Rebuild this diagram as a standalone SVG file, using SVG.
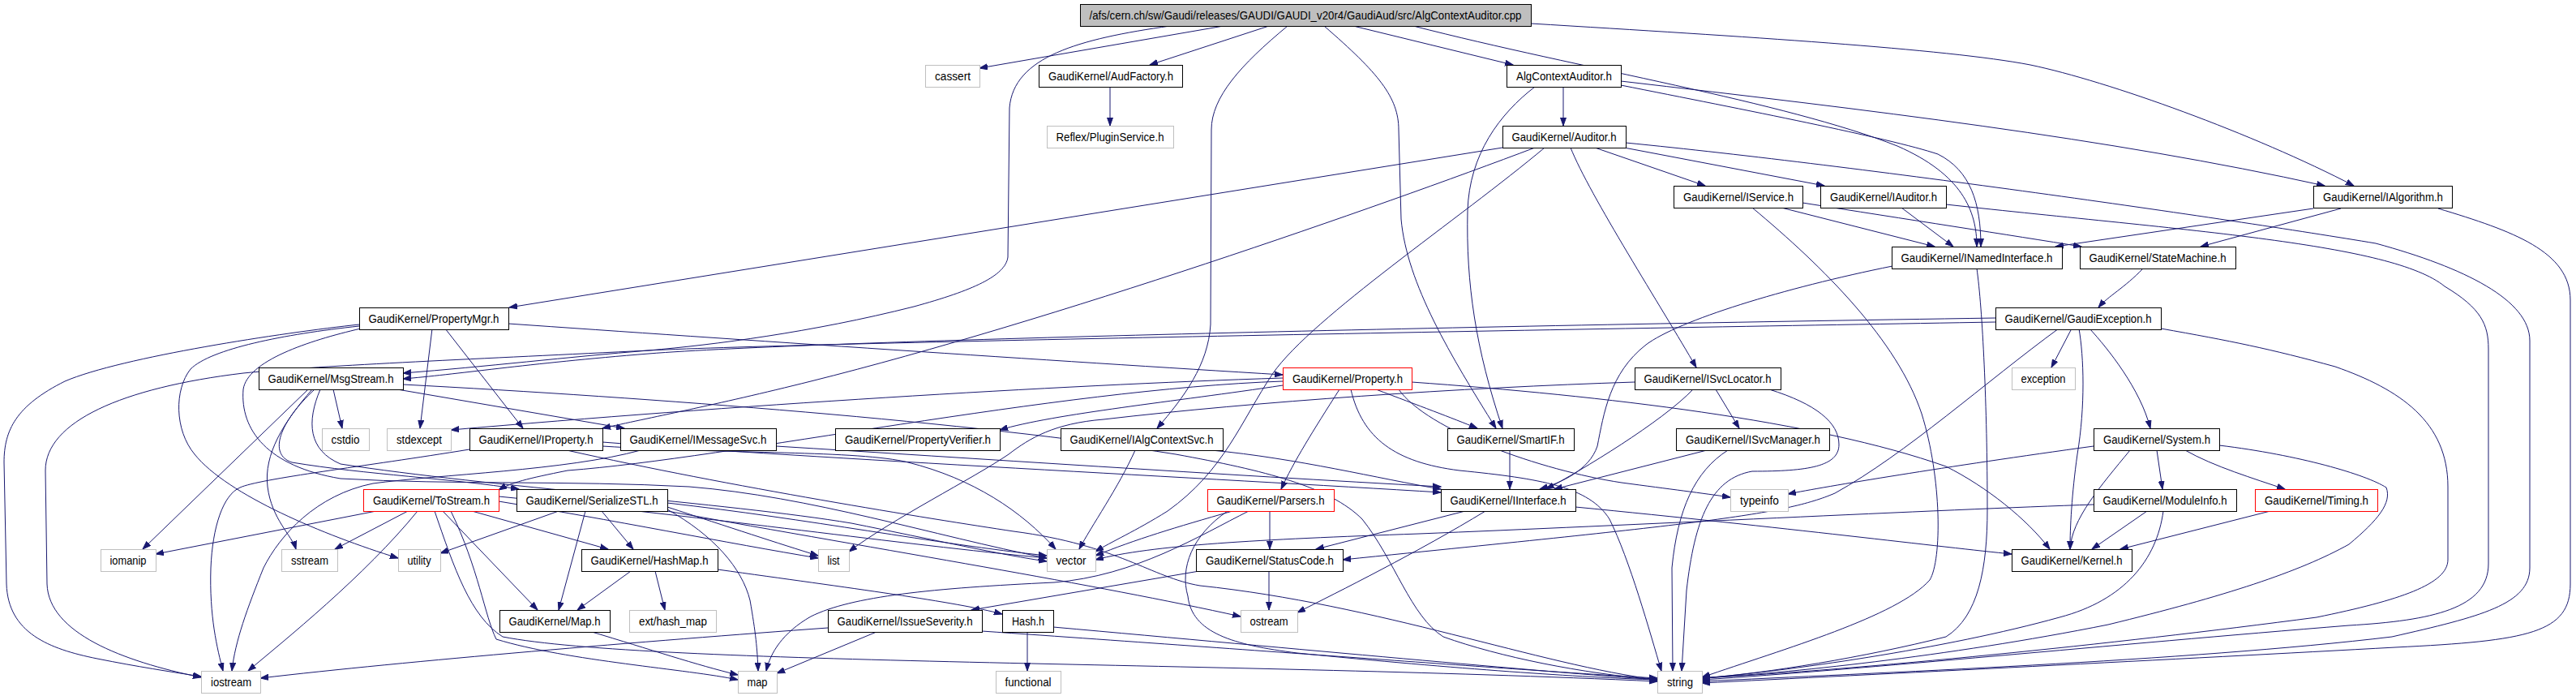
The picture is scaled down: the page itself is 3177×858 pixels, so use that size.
<svg xmlns="http://www.w3.org/2000/svg" width="3177" height="858" viewBox="0 0 3177 858">
<defs>
<marker id="a" markerWidth="11" markerHeight="8" refX="10" refY="4" orient="auto" markerUnits="userSpaceOnUse"><path d="M0,0.5 L10,4 L0,7.5 z" fill="#191970" stroke="#191970" stroke-width="1"/></marker>
<style>
.n rect{fill:#fff;stroke:#000;stroke-width:1}
.g rect{fill:#fff;stroke:#bfbfbf;stroke-width:1}
.r rect{fill:#fff;stroke:#ff0000;stroke-width:1}
.m rect{fill:#bfbfbf;stroke:#000;stroke-width:1}
text{font-family:"Liberation Sans",Arial,sans-serif;font-size:14px;text-anchor:middle;fill:#000}
#edges path{fill:none;stroke:#191970;stroke-width:1;marker-end:url(#a)}
</style>
</defs>
<rect width="3177" height="858" fill="#fff"/>
<g id="edges">
<path d="M1509,32 L1208,84"/>
<path d="M1565,32 L1418,80"/>
<path d="M1669,32 L1866,80"/>
<path d="M1888,29 C2150,45 2400,60 2504,80 C2600,100 2780,165 2903,229"/>
<path d="M1743,32 C1950,85 2200,125 2340,180 C2420,215 2438,260 2438,304"/>
<path d="M1443,32 C1330,48 1250,70 1245,133 L1243,317 C1240,340 1200,358 1127,378 C1000,410 880,425 800,432 C700,440 600,452 497,460"/>
<path d="M1588,32 C1530,80 1494,120 1494,160 L1493,400 C1490,450 1460,490 1427,528"/>
<path d="M1633,32 C1700,90 1725,120 1725,160 L1728,270 C1735,350 1790,440 1845,528"/>
<path d="M1369,107 L1369,155"/>
<path d="M1928,107 L1928,155"/>
<path d="M1999,100 C2300,135 2600,170 2867,229"/>
<path d="M1999,105 C2150,135 2330,170 2390,190 C2430,210 2443,250 2443,304"/>
<path d="M1893,107 C1850,140 1812,190 1810,260 C1808,350 1820,430 1853,528"/>
<path d="M1853,182 L628,379"/>
<path d="M1893,182 C1700,255 1300,395 1000,470 C880,500 800,515 743,528"/>
<path d="M1905,182 C1800,270 1620,390 1570,460 C1530,520 1510,580 1440,630 C1400,655 1370,668 1351,680"/>
<path d="M1937,182 C1960,240 2050,380 2092,453"/>
<path d="M1967,182 L2103,229"/>
<path d="M2003,182 L2250,229"/>
<path d="M2005,176 C2300,205 2750,270 2930,300 C3040,330 3120,370 3120,420 L3120,700 C3120,745 3060,760 2950,785 C2700,815 2300,830 2099,840"/>
<path d="M2197,256 L2386,304"/>
<path d="M2223,250 C2350,270 2480,290 2567,304"/>
<path d="M2161,256 C2250,330 2340,420 2370,510 C2395,590 2395,690 2380,715 C2340,760 2200,800 2099,835"/>
<path d="M2345,256 L2409,304"/>
<path d="M2400,252 C2700,285 2950,300 3015,353 C3060,380 3069,400 3069,430 L3069,695 C3069,750 3000,765 2897,771 C2600,795 2300,825 2099,838"/>
<path d="M2853,257 L2535,304"/>
<path d="M2887,257 L2714,304"/>
<path d="M3007,257 C3100,285 3170,310 3170,370 L3170,720 C3170,780 3120,790 2954,798 C2700,812 2300,832 2099,842"/>
<path d="M2334,328 C2200,355 2070,395 2030,425 C1985,460 1978,510 1970,550 C1960,580 1925,595 1899,603"/>
<path d="M2438,331 C2445,380 2451,500 2451,628 C2451,700 2440,760 2400,785 C2300,810 2180,830 2099,836"/>
<path d="M2643,331 C2620,355 2600,365 2588,379"/>
<path d="M2461,392 C1800,402 1000,420 800,436 C650,448 560,462 497,467"/>
<path d="M2461,397 C2000,405 1000,422 800,432 C600,442 400,450 300,460 C150,478 56,520 56,580 L58,720 C60,780 150,815 248,835"/>
<path d="M2555,405 L2530,453"/>
<path d="M2577,405 C2600,430 2640,480 2652,528"/>
<path d="M2564,405 C2570,440 2572,500 2562,560 C2555,610 2553,650 2553,677"/>
<path d="M2539,405 C2450,470 2350,560 2263,608 C2200,635 2100,645 1656,690"/>
<path d="M2665,405 C2750,420 2800,430 2880,452 C2960,480 3019,520 3019,600 L3019,690 C3019,720 2960,740 2857,761 C2600,795 2300,825 2099,836"/>
<path d="M443,400 C350,410 150,440 80,470 C20,500 5,530 5,570 L8,720 C10,780 60,800 120,812 C170,822 210,828 248,834"/>
<path d="M443,402 C350,412 260,430 235,455 C215,480 215,530 240,560 C280,610 400,660 491,688"/>
<path d="M445,405 C380,420 305,445 300,480 C296,530 330,575 420,590 C560,598 700,592 850,600 C1000,612 1150,660 1291,688"/>
<path d="M533,405 L518,528"/>
<path d="M549,405 L645,528"/>
<path d="M627,399 C900,418 1300,445 1582,462"/>
<path d="M380,480 L176,677"/>
<path d="M385,480 C350,520 325,560 330,600 C335,640 360,660 365,677"/>
<path d="M388,480 C345,520 330,560 360,570 C450,585 560,590 640,603"/>
<path d="M395,480 C378,520 380,555 420,572 C600,600 900,620 1050,645 C1150,665 1240,685 1291,692"/>
<path d="M411,480 L422,528"/>
<path d="M490,480 L770,528"/>
<path d="M497,474 C800,490 1200,520 1450,560 C1560,580 1640,600 1680,640 C1720,690 1740,760 1780,785 C1850,810 1950,830 2044,838"/>
<path d="M743,545 C1000,565 1500,590 1777,607"/>
<path d="M579,554 C450,575 320,590 296,601 C275,610 262,650 260,700 C258,760 268,800 275,827"/>
<path d="M699,555 C900,600 1150,640 1250,655 C1380,672 1420,712 1480,722 C1700,745 1900,820 2044,838"/>
<path d="M743,550 C900,560 1060,555 1120,570 C1200,590 1260,630 1302,677"/>
<path d="M957,550 C1200,565 1500,585 1777,600"/>
<path d="M790,555 C700,580 540,585 460,596 C390,610 345,660 325,700 C305,750 290,790 286,827"/>
<path d="M1400,555 C1380,600 1345,650 1331,677"/>
<path d="M1494,555 C1600,565 1700,590 1777,603"/>
<path d="M1862,555 L1862,603"/>
<path d="M2088,480 C2050,520 1950,580 1907,603"/>
<path d="M2116,480 L2145,528"/>
<path d="M2016,471 C1800,478 1550,495 1361,517 C1300,522 1270,540 1244,560 C1200,590 1100,640 1047,680"/>
<path d="M2182,480 C2240,498 2268,521 2268,548 C2268,575 2230,581 2161,581 C2110,590 2090,640 2080,728 L2074,827"/>
<path d="M2105,555 L1917,603"/>
<path d="M2131,555 C2090,581 2069,628 2062,700 L2063,827"/>
<path d="M1652,480 C1620,530 1595,570 1580,603"/>
<path d="M1697,480 C1750,500 1790,515 1822,528"/>
<path d="M1666,480 C1680,540 1720,570 1800,580 C1900,590 1960,600 1985,640 C2010,690 2035,780 2049,827"/>
<path d="M1725,480 C1760,530 1900,580 2000,595 C2060,603 2100,608 2134,613"/>
<path d="M1741,471 C1978,488 2238,518 2400,575 C2450,600 2500,640 2528,677"/>
<path d="M1582,466 C1300,475 900,500 556,530"/>
<path d="M1582,475 C1450,495 1300,510 1233,530"/>
<path d="M1582,470 C1300,480 900,565 700,580 C650,590 630,595 615,604"/>
<path d="M1520,630 C1450,650 1400,665 1351,685"/>
<path d="M1540,630 C1480,660 1400,710 1300,718 C1150,725 1050,735 1000,760 C965,780 950,805 945,827"/>
<path d="M1566,630 L1566,677"/>
<path d="M1514,630 C1470,660 1455,700 1465,735 C1470,780 1520,795 1600,805 C1800,825 1950,835 2044,838"/>
<path d="M464,630 L192,683"/>
<path d="M503,630 L413,677"/>
<path d="M515,630 C450,710 350,790 306,827"/>
<path d="M536,630 C560,700 580,760 620,785 C800,820 1500,815 2044,840"/>
<path d="M546,630 L663,752"/>
<path d="M582,630 L750,677"/>
<path d="M615,618 C750,640 900,670 1009,688"/>
<path d="M615,612 C900,640 1100,670 1291,688"/>
<path d="M556,630 C590,700 598,760 612,788 C700,815 850,825 910,838"/>
<path d="M689,630 L543,682"/>
<path d="M722,630 L689,752"/>
<path d="M742,630 L781,677"/>
<path d="M823,625 C900,650 960,670 1009,685"/>
<path d="M823,620 C1000,640 1150,670 1291,685"/>
<path d="M823,630 C1100,680 1350,720 1530,760"/>
<path d="M823,628 C880,660 915,700 925,740 C932,780 934,800 935,827"/>
<path d="M778,704 L712,752"/>
<path d="M808,704 L820,752"/>
<path d="M885,702 C1050,725 1180,742 1236,757"/>
<path d="M730,779 C800,800 860,820 910,832"/>
<path d="M1267,779 L1267,827"/>
<path d="M1299,773 C1600,800 1900,828 2044,838"/>
<path d="M1565,704 L1565,752"/>
<path d="M1479,704 L1198,752"/>
<path d="M1021,774 C800,790 500,815 321,836"/>
<path d="M1081,779 L958,830"/>
<path d="M1211,778 C1600,805 1900,828 2044,836"/>
<path d="M1807,630 L1623,677"/>
<path d="M1832,630 C1750,680 1650,730 1600,755"/>
<path d="M1943,625 C2200,650 2400,675 2481,683"/>
<path d="M2582,550 C2400,575 2250,600 2205,609"/>
<path d="M2627,555 C2590,600 2555,640 2553,677"/>
<path d="M2660,555 L2667,603"/>
<path d="M2695,555 C2730,575 2780,590 2818,603"/>
<path d="M2737,549 C2836,561 2918,585 2943,601 C2950,620 2933,641 2897,671 C2836,705 2744,735 2600,770 C2400,810 2200,830 2099,836"/>
<path d="M2648,630 L2580,677"/>
<path d="M2668,630 C2660,690 2620,740 2540,761 C2400,800 2200,828 2099,836"/>
<path d="M2582,622 C2400,628 2000,648 1750,658 C1550,665 1420,672 1351,690"/>
<path d="M2800,630 L2615,677"/>
</g>
<g id="main" class="m"><rect x="1332.5" y="5.5" width="556" height="27"/><text x="1610" y="24" textLength="533" lengthAdjust="spacingAndGlyphs">/afs/cern.ch/sw/Gaudi/releases/GAUDI/GAUDI_v20r4/GaudiAud/src/AlgContextAuditor.cpp</text></g>
<g id="cassert" class="g"><rect x="1141.5" y="80.5" width="67" height="27"/><text x="1175" y="99" textLength="44" lengthAdjust="spacingAndGlyphs">cassert</text></g>
<g id="AudFactory" class="n"><rect x="1281.5" y="80.5" width="177" height="27"/><text x="1370" y="99" textLength="154" lengthAdjust="spacingAndGlyphs">GaudiKernel/AudFactory.h</text></g>
<g id="AlgContextAuditorH" class="n"><rect x="1858.5" y="80.5" width="141" height="27"/><text x="1929" y="99" textLength="118" lengthAdjust="spacingAndGlyphs">AlgContextAuditor.h</text></g>
<g id="PluginService" class="g"><rect x="1291.5" y="155.5" width="156" height="27"/><text x="1369" y="174" textLength="133" lengthAdjust="spacingAndGlyphs">Reflex/PluginService.h</text></g>
<g id="Auditor" class="n"><rect x="1853.5" y="155.5" width="152" height="27"/><text x="1929" y="174" textLength="129" lengthAdjust="spacingAndGlyphs">GaudiKernel/Auditor.h</text></g>
<g id="IService" class="n"><rect x="2064.5" y="229.5" width="159" height="27"/><text x="2144" y="248" textLength="136" lengthAdjust="spacingAndGlyphs">GaudiKernel/IService.h</text></g>
<g id="IAuditor" class="n"><rect x="2245.5" y="229.5" width="155" height="27"/><text x="2323" y="248" textLength="132" lengthAdjust="spacingAndGlyphs">GaudiKernel/IAuditor.h</text></g>
<g id="IAlgorithm" class="n"><rect x="2853.5" y="229.5" width="171" height="27"/><text x="2939" y="248" textLength="148" lengthAdjust="spacingAndGlyphs">GaudiKernel/IAlgorithm.h</text></g>
<g id="INamedInterface" class="n"><rect x="2333.5" y="304.5" width="210" height="27"/><text x="2438" y="323" textLength="187" lengthAdjust="spacingAndGlyphs">GaudiKernel/INamedInterface.h</text></g>
<g id="StateMachine" class="n"><rect x="2565.5" y="304.5" width="192" height="27"/><text x="2661" y="323" textLength="169" lengthAdjust="spacingAndGlyphs">GaudiKernel/StateMachine.h</text></g>
<g id="PropertyMgr" class="n"><rect x="443.5" y="379.5" width="184" height="27"/><text x="535" y="398" textLength="161" lengthAdjust="spacingAndGlyphs">GaudiKernel/PropertyMgr.h</text></g>
<g id="GaudiException" class="n"><rect x="2461.5" y="379.5" width="204" height="27"/><text x="2563" y="398" textLength="181" lengthAdjust="spacingAndGlyphs">GaudiKernel/GaudiException.h</text></g>
<g id="MsgStream" class="n"><rect x="319.5" y="453.5" width="178" height="27"/><text x="408" y="472" textLength="155" lengthAdjust="spacingAndGlyphs">GaudiKernel/MsgStream.h</text></g>
<g id="Property" class="r"><rect x="1582.5" y="453.5" width="159" height="27"/><text x="1662" y="472" textLength="136" lengthAdjust="spacingAndGlyphs">GaudiKernel/Property.h</text></g>
<g id="ISvcLocator" class="n"><rect x="2016.5" y="453.5" width="180" height="27"/><text x="2106" y="472" textLength="157" lengthAdjust="spacingAndGlyphs">GaudiKernel/ISvcLocator.h</text></g>
<g id="exception" class="g"><rect x="2481.5" y="453.5" width="78" height="27"/><text x="2520" y="472" textLength="55" lengthAdjust="spacingAndGlyphs">exception</text></g>
<g id="cstdio" class="g"><rect x="397.5" y="528.5" width="58" height="27"/><text x="426" y="547" textLength="35" lengthAdjust="spacingAndGlyphs">cstdio</text></g>
<g id="stdexcept" class="g"><rect x="477.5" y="528.5" width="79" height="27"/><text x="517" y="547" textLength="56" lengthAdjust="spacingAndGlyphs">stdexcept</text></g>
<g id="IProperty" class="n"><rect x="579.5" y="528.5" width="164" height="27"/><text x="661" y="547" textLength="141" lengthAdjust="spacingAndGlyphs">GaudiKernel/IProperty.h</text></g>
<g id="IMessageSvc" class="n"><rect x="765.5" y="528.5" width="192" height="27"/><text x="861" y="547" textLength="169" lengthAdjust="spacingAndGlyphs">GaudiKernel/IMessageSvc.h</text></g>
<g id="PropertyVerifier" class="n"><rect x="1030.5" y="528.5" width="203" height="27"/><text x="1132" y="547" textLength="180" lengthAdjust="spacingAndGlyphs">GaudiKernel/PropertyVerifier.h</text></g>
<g id="IAlgContextSvc" class="n"><rect x="1308.5" y="528.5" width="200" height="27"/><text x="1408" y="547" textLength="177" lengthAdjust="spacingAndGlyphs">GaudiKernel/IAlgContextSvc.h</text></g>
<g id="SmartIF" class="n"><rect x="1785.5" y="528.5" width="156" height="27"/><text x="1863" y="547" textLength="133" lengthAdjust="spacingAndGlyphs">GaudiKernel/SmartIF.h</text></g>
<g id="ISvcManager" class="n"><rect x="2067.5" y="528.5" width="189" height="27"/><text x="2162" y="547" textLength="166" lengthAdjust="spacingAndGlyphs">GaudiKernel/ISvcManager.h</text></g>
<g id="System" class="n"><rect x="2582.5" y="528.5" width="155" height="27"/><text x="2660" y="547" textLength="132" lengthAdjust="spacingAndGlyphs">GaudiKernel/System.h</text></g>
<g id="ToStream" class="r"><rect x="448.5" y="603.5" width="167" height="27"/><text x="532" y="622" textLength="144" lengthAdjust="spacingAndGlyphs">GaudiKernel/ToStream.h</text></g>
<g id="SerializeSTL" class="n"><rect x="637.5" y="603.5" width="186" height="27"/><text x="730" y="622" textLength="163" lengthAdjust="spacingAndGlyphs">GaudiKernel/SerializeSTL.h</text></g>
<g id="Parsers" class="r"><rect x="1489.5" y="603.5" width="156" height="27"/><text x="1567" y="622" textLength="133" lengthAdjust="spacingAndGlyphs">GaudiKernel/Parsers.h</text></g>
<g id="IInterface" class="n"><rect x="1777.5" y="603.5" width="166" height="27"/><text x="1860" y="622" textLength="143" lengthAdjust="spacingAndGlyphs">GaudiKernel/IInterface.h</text></g>
<g id="typeinfo" class="g"><rect x="2134.5" y="603.5" width="71" height="27"/><text x="2170" y="622" textLength="48" lengthAdjust="spacingAndGlyphs">typeinfo</text></g>
<g id="ModuleInfo" class="n"><rect x="2582.5" y="603.5" width="176" height="27"/><text x="2670" y="622" textLength="153" lengthAdjust="spacingAndGlyphs">GaudiKernel/ModuleInfo.h</text></g>
<g id="Timing" class="r"><rect x="2781.5" y="603.5" width="151" height="27"/><text x="2857" y="622" textLength="128" lengthAdjust="spacingAndGlyphs">GaudiKernel/Timing.h</text></g>
<g id="iomanip" class="g"><rect x="124.5" y="677.5" width="68" height="27"/><text x="158" y="696" textLength="45" lengthAdjust="spacingAndGlyphs">iomanip</text></g>
<g id="sstream" class="g"><rect x="347.5" y="677.5" width="69" height="27"/><text x="382" y="696" textLength="46" lengthAdjust="spacingAndGlyphs">sstream</text></g>
<g id="utility" class="g"><rect x="491.5" y="677.5" width="52" height="27"/><text x="517" y="696" textLength="29" lengthAdjust="spacingAndGlyphs">utility</text></g>
<g id="HashMap" class="n"><rect x="717.5" y="677.5" width="168" height="27"/><text x="801" y="696" textLength="145" lengthAdjust="spacingAndGlyphs">GaudiKernel/HashMap.h</text></g>
<g id="list" class="g"><rect x="1009.5" y="677.5" width="38" height="27"/><text x="1028" y="696" textLength="15" lengthAdjust="spacingAndGlyphs">list</text></g>
<g id="vector" class="g"><rect x="1291.5" y="677.5" width="60" height="27"/><text x="1321" y="696" textLength="37" lengthAdjust="spacingAndGlyphs">vector</text></g>
<g id="StatusCode" class="n"><rect x="1475.5" y="677.5" width="181" height="27"/><text x="1566" y="696" textLength="158" lengthAdjust="spacingAndGlyphs">GaudiKernel/StatusCode.h</text></g>
<g id="Kernel" class="n"><rect x="2481.5" y="677.5" width="148" height="27"/><text x="2555" y="696" textLength="125" lengthAdjust="spacingAndGlyphs">GaudiKernel/Kernel.h</text></g>
<g id="Map" class="n"><rect x="616.5" y="752.5" width="136" height="27"/><text x="684" y="771" textLength="113" lengthAdjust="spacingAndGlyphs">GaudiKernel/Map.h</text></g>
<g id="ext_hash_map" class="g"><rect x="776.5" y="752.5" width="107" height="27"/><text x="830" y="771" textLength="84" lengthAdjust="spacingAndGlyphs">ext/hash_map</text></g>
<g id="IssueSeverity" class="n"><rect x="1021.5" y="752.5" width="190" height="27"/><text x="1116" y="771" textLength="167" lengthAdjust="spacingAndGlyphs">GaudiKernel/IssueSeverity.h</text></g>
<g id="Hash" class="n"><rect x="1236.5" y="752.5" width="63" height="27"/><text x="1268" y="771" textLength="40" lengthAdjust="spacingAndGlyphs">Hash.h</text></g>
<g id="ostream" class="g"><rect x="1530.5" y="752.5" width="70" height="27"/><text x="1565" y="771" textLength="47" lengthAdjust="spacingAndGlyphs">ostream</text></g>
<g id="iostream" class="g"><rect x="248.5" y="827.5" width="73" height="27"/><text x="285" y="846" textLength="50" lengthAdjust="spacingAndGlyphs">iostream</text></g>
<g id="map" class="g"><rect x="910.5" y="827.5" width="48" height="27"/><text x="934" y="846" textLength="25" lengthAdjust="spacingAndGlyphs">map</text></g>
<g id="functional" class="g"><rect x="1228.5" y="827.5" width="80" height="27"/><text x="1268" y="846" textLength="57" lengthAdjust="spacingAndGlyphs">functional</text></g>
<g id="string" class="g"><rect x="2044.5" y="827.5" width="55" height="27"/><text x="2072" y="846" textLength="32" lengthAdjust="spacingAndGlyphs">string</text></g>
</svg>
